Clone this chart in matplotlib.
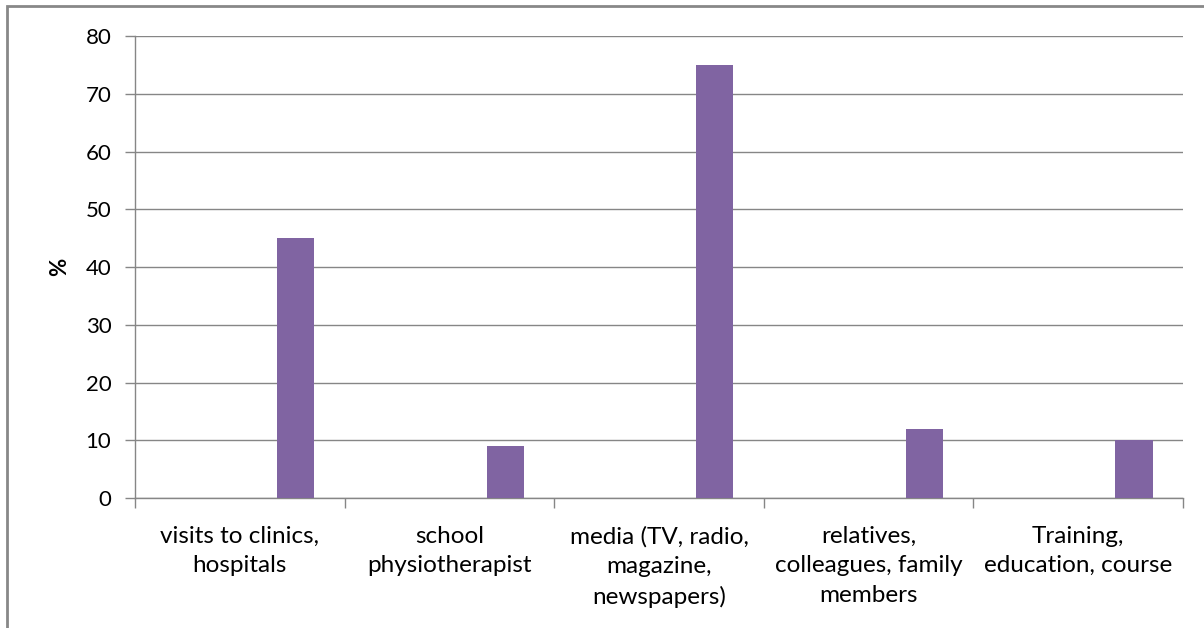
import matplotlib
matplotlib.use("Agg")
import matplotlib.pyplot as plt
from matplotlib.patches import Rectangle

categories = ["visits to clinics,\nhospitals", "school\nphysiotherapist",
              "media (TV, radio,\nmagazine,\nnewspapers)",
              "relatives,\ncolleagues, family\nmembers",
              "Training,\neducation, course"]
values = [45, 9, 75, 12, 10]
yticks = [0, 10, 20, 30, 40, 50, 60, 70, 80]

plt.rcParams['font.family'] = ['Lato', 'DejaVu Sans']

W, H = 1204, 628
fig = plt.figure(figsize=(W/100, H/100), dpi=100)
ax = fig.add_axes([135/W, 1-498/H, (1183-135)/W, (498-36)/H])

grid_c = "#868686"
bar_c = "#8064A2"
x = list(range(len(values)))
ax.bar([i + 0.266 for i in x], values, width=0.177, color=bar_c, zorder=3)
ax.set_xlim(-0.5, len(values) - 0.5)
ax.set_ylim(0, 80)
ax.set_yticks(yticks)
ax.yaxis.grid(True, color=grid_c, linewidth=1.0, zorder=0)
ax.set_xticks([i - 0.5 for i in range(len(values) + 1)])
ax.set_xticklabels([])
ax.set_xticks(x, minor=True)
ax.set_xticklabels(categories, minor=True, fontsize=17.5, linespacing=1.5)
ax.tick_params(axis='x', which='minor', length=0, pad=20)
ax.tick_params(axis='x', which='major', length=7, color=grid_c, width=1)
ax.tick_params(axis='y', length=7, color=grid_c, width=1, labelsize=16, pad=10)
for s in ['top', 'right']:
    ax.spines[s].set_visible(False)
for s in ['left', 'bottom']:
    ax.spines[s].set_color(grid_c)
    ax.spines[s].set_linewidth(1.0)
ax.set_ylabel("%", fontsize=16, fontweight='bold', labelpad=11)

fig.patches.append(Rectangle((7/W, -0.1), 1.2, 1.1 - 6/H, transform=fig.transFigure,
                             fill=False, edgecolor="#888888", linewidth=2))

fig.savefig("out.png", dpi=100)
